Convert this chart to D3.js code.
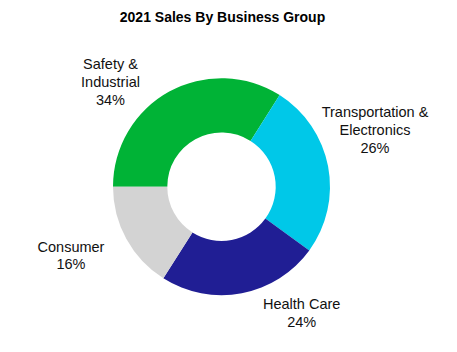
<!DOCTYPE html>
<html>
<head>
<meta charset="utf-8">
<script src="https://cdn.jsdelivr.net/npm/d3@7"></script>
<style>
  html, body { margin: 0; padding: 0; background: #fff; }
  svg { display: block; }
</style>
</head>
<body>
<svg id="chart"></svg>
<script>
// data
var groups = ["Safety & Industrial", "Transportation & Electronics", "Health Care", "Consumer"];
var shares = [34, 26, 24, 16];
var labelLines = [["Safety &", "Industrial"], ["Transportation &", "Electronics"], ["Health Care"], ["Consumer"]];
var colors = ["#00b336", "#00c8e8", "#201e94", "#d3d3d3"];

var width = 457, height = 352;
var cx = 221.5, cy = 186.7;
var outerR = 108.5, innerR = 54.2;

// where each label block sits (center x, first baseline y)
var labelPos = [[110.5, 69.3], [375, 117.3], [301.7, 309], [71, 251.7]];
var lineH = 17.7;

var svg = d3.select("#chart")
    .attr("width", width)
    .attr("height", height);

svg.append("text")
    .attr("x", 222.5)
    .attr("y", 22)
    .attr("text-anchor", "middle")
    .style("font-family", "'Liberation Sans', Arial, sans-serif")
    .style("font-weight", "bold")
    .style("font-size", "14px")
    .style("fill", "#000")
    .text("2021 Sales By Business Group");

var pie = d3.pie()
    .sort(null)
    .startAngle(-Math.PI / 2)
    .endAngle(Math.PI * 1.5)
    .value(d => d);

var arc = d3.arc()
    .innerRadius(innerR)
    .outerRadius(outerR);

var g = svg.append("g").attr("transform", `translate(${cx},${cy})`);

g.selectAll("path")
    .data(pie(shares))
    .join("path")
    .attr("d", arc)
    .attr("fill", (d, i) => colors[i]);

var labels = svg.selectAll(".label")
    .data(groups)
    .join("text")
    .attr("class", "label")
    .attr("text-anchor", "middle")
    .style("font-family", "'Liberation Sans', Arial, sans-serif")
    .style("font-size", "14.5px")
    .style("fill", "#111");

labels.each(function(d, i) {
    var t = d3.select(this);
    var lines = labelLines[i].concat([shares[i] + "%"]);
    lines.forEach(function(line, j) {
        t.append("tspan")
            .attr("x", labelPos[i][0])
            .attr("y", labelPos[i][1] + j * lineH)
            .text(line);
    });
});
</script>
</body>
</html>
